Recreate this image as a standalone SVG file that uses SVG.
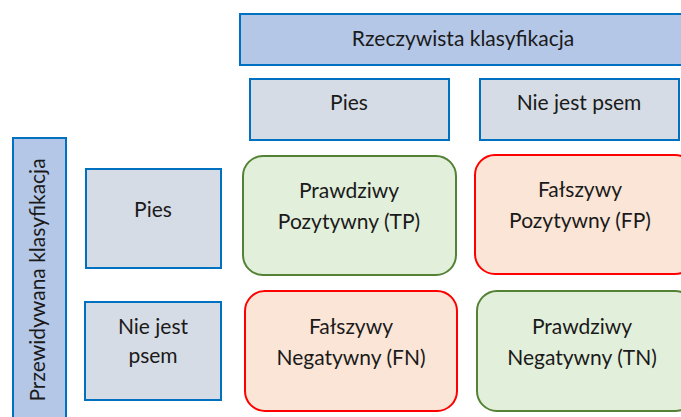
<svg xmlns="http://www.w3.org/2000/svg" width="681" height="417" viewBox="0 0 681 417">
  <style>
    text { font-family: Lato, "Open Sans", "Liberation Sans", sans-serif; font-size: 21px; fill: #1a1a1a; text-anchor: middle; }
    .title { fill: #B4C7E7; stroke: #0070C0; stroke-width: 2; }
    .label { fill: #D6DCE5; stroke: #0070C0; stroke-width: 2; }
    .good { fill: #E2EFDA; stroke: #548235; stroke-width: 2; }
    .bad { fill: #FBE5D6; stroke: #FF0000; stroke-width: 2; }
  </style>
  <rect width="681" height="417" fill="#ffffff"/>

  <g id="actual-header">
    <rect class="title" x="240" y="14" width="446" height="51"/>
    <text x="463" y="46">Rzeczywista klasyfikacja</text>
  </g>
  <g id="actual-dog">
    <rect class="label" x="250" y="79" width="199" height="61"/>
    <text x="349" y="110">Pies</text>
  </g>
  <g id="actual-not-dog">
    <rect class="label" x="480" y="79" width="199" height="61"/>
    <text x="579" y="110">Nie jest psem</text>
  </g>

  <g id="predicted-header">
    <rect class="title" x="13" y="138" width="53" height="290"/>
    <text transform="translate(45 280) rotate(-90)">Przewidywana klasyfikacja</text>
  </g>
  <g id="predicted-dog">
    <rect class="label" x="86" y="169" width="135" height="99"/>
    <text x="153" y="217">Pies</text>
  </g>
  <g id="predicted-not-dog">
    <rect class="label" x="85" y="302" width="136" height="98"/>
    <text x="153" y="334">Nie jest</text>
    <text x="153" y="363">psem</text>
  </g>

  <g id="tp">
    <rect class="good" x="243" y="156" width="213" height="119" rx="20"/>
    <text x="349" y="198">Prawdziwy</text>
    <text x="349" y="229">Pozytywny (TP)</text>
  </g>
  <g id="fp">
    <rect class="bad" x="475" y="155" width="220" height="119" rx="20"/>
    <text x="580" y="197">Fałszywy</text>
    <text x="580" y="228">Pozytywny (FP)</text>
  </g>
  <g id="fn">
    <rect class="bad" x="245" y="291" width="212" height="120" rx="20"/>
    <text x="351" y="334">Fałszywy</text>
    <text x="351" y="365">Negatywny (FN)</text>
  </g>
  <g id="tn">
    <rect class="good" x="477" y="291" width="218" height="120" rx="20"/>
    <text x="582" y="334">Prawdziwy</text>
    <text x="582" y="365">Negatywny (TN)</text>
  </g>

  <g id="connectors"></g>
</svg>
